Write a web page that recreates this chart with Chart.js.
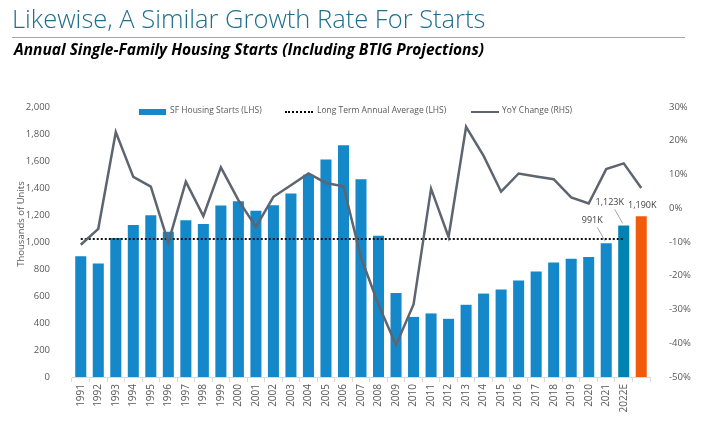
<!DOCTYPE html>
<html>
<head>
<meta charset="utf-8">
<script src="https://cdn.jsdelivr.net/npm/chart.js@4"></script>
<style>
  html, body { margin: 0; padding: 0; background: #fff; }
  #wrap { position: relative; width: 704px; height: 436px; overflow: hidden; }
  #title { position: absolute; left: 12px; top: 1px; font-family: "Open Sans", sans-serif; font-weight: 300; font-size: 25.5px; color: #1f6e8c; white-space: nowrap; }
  #rule { position: absolute; left: 12px; top: 37px; width: 673px; height: 1px; background: #a6a6a6; }
  #subtitle { position: absolute; left: 14px; top: 38px; font-family: "Open Sans", sans-serif; font-weight: 700; font-style: italic; font-size: 15.5px; color: #000; white-space: nowrap; }
  #legend { position: absolute; top: 104px; left: 0; font-family: "Open Sans", sans-serif; font-size: 8.5px; color: #595959; }
  #legend span { position: absolute; white-space: nowrap; top: 0; }
  .sw { position: absolute; }
  canvas { position: absolute; left: 0; top: 0; }
</style>
</head>
<body>
<div id="wrap">
  <canvas id="chart" width="704" height="436"></canvas>
  <div id="title">Likewise, A Similar Growth Rate For Starts</div>
  <div id="rule"></div>
  <div id="subtitle">Annual Single-Family Housing Starts (Including BTIG Projections)</div>
  <div id="legend">
    <div class="sw" style="left:139px;top:5px;width:27px;height:6px;background:#1488c8"></div>
    <span style="left:170px">SF Housing Starts (LHS)</span>
    <div class="sw" style="left:285px;top:7px;width:28px;height:0;border-top:2px dotted #000"></div>
    <span style="left:317px">Long Term Annual Average (LHS)</span>
    <div class="sw" style="left:471px;top:7px;width:28px;height:2px;background:#5d6570"></div>
    <span style="left:502px">YoY Change (RHS)</span>
  </div>
</div>
<script>
const years = ['1991','1992','1993','1994','1995','1996','1997','1998','1999','2000',
  '2001','2002','2003','2004','2005','2006','2007','2008','2009','2010',
  '2011','2012','2013','2014','2015','2016','2017','2018','2019','2020',
  '2021','2022E',''];

// thousands of units
const starts = [895, 840, 1030, 1126, 1198, 1076, 1161, 1134, 1271, 1302,
  1231, 1273, 1359, 1499, 1611, 1716, 1465, 1046, 622, 445,
  471, 431, 535, 618, 648, 715, 782, 849, 876, 888,
  991, 1123, 1190];

// year over year change, %
const yoyChange = [-10.8, -6.1, 22.6, 9.3, 6.4, -10.2, 7.9, -2.3, 12.1, 2.4,
  -5.5, 3.4, 6.8, 10.3, 7.5, 6.5, -14.6, -28.6, -40.5, -28.5,
  5.8, -8.5, 24.1, 15.5, 4.9, 10.3, 9.4, 8.6, 3.2, 1.4,
  11.6, 13.3, 6.0];

const longTermAvg = 1022;
const avgLastIndex = 31;

const barLabels = [
  { index: 30, text: '991K' },
  { index: 31, text: '1,123K' },
  { index: 32, text: '1,190K' }
];

const blue = '#1488c8';
const teal = '#0083b3';
const orange = '#f35b0c';
const lineGray = '#5d6570';
const tickFont = { family: 'Open Sans', size: 9.5 };

const barColors = starts.map((v, i) => i === 32 ? orange : (i === 31 ? teal : blue));
const avgData = years.map((y, i) => i <= avgLastIndex ? longTermAvg : null);

// y-axis title + value callouts
const extras = {
  id: 'extras',
  afterDatasetsDraw(chart) {
    const ctx = chart.ctx;
    const x = chart.scales.x, y = chart.scales.y;
    ctx.save();
    ctx.font = '9px "Open Sans"';
    ctx.fillStyle = '#404040';
    ctx.textAlign = 'center';
    ctx.textBaseline = 'middle';
    barLabels.forEach(l => {
      const bx = x.getPixelForValue(l.index);
      const by = y.getPixelForValue(starts[l.index]);
      if (l.index === 32) {
        ctx.fillText(l.text, bx + 1, by - 11);
        return;
      }
      const tx = bx - 17, ty = by - 23;
      ctx.fillText(l.text, tx + 3, ty);
      ctx.strokeStyle = '#a6a6a6';
      ctx.lineWidth = 1;
      ctx.beginPath();
      ctx.moveTo(tx + 8, ty + 7);
      ctx.lineTo(bx - 1, by - 2);
      ctx.stroke();
    });
    // axis title
    ctx.translate(21, 224);
    ctx.rotate(-Math.PI / 2);
    ctx.font = '9.5px "Open Sans"';
    ctx.fillStyle = '#595959';
    ctx.fillText('Thousands of Units', 0, 0);
    ctx.restore();
  }
};

new Chart(document.getElementById('chart'), {
  type: 'bar',
  data: {
    labels: years,
    datasets: [
      {
        type: 'line',
        label: 'YoY Change (RHS)',
        data: yoyChange,
        yAxisID: 'y2',
        borderColor: lineGray,
        borderWidth: 2.5,
        pointRadius: 0,
        tension: 0,
        order: 1
      },
      {
        type: 'line',
        label: 'Long Term Annual Average (LHS)',
        data: avgData,
        yAxisID: 'y',
        borderColor: '#111',
        borderWidth: 2,
        borderDash: [2, 2],
        pointRadius: 0,
        order: 2
      },
      {
        label: 'SF Housing Starts (LHS)',
        data: starts,
        yAxisID: 'y',
        backgroundColor: barColors,
        categoryPercentage: 1,
        barPercentage: 0.63,
        order: 3
      }
    ]
  },
  options: {
    responsive: false,
    animation: false,
    layout: { padding: { top: 107, left: 0, right: 0, bottom: 0 } },
    plugins: {
      legend: { display: false },
      tooltip: { enabled: false }
    },
    scales: {
      x: {
        offset: true,
        grid: { display: true, drawOnChartArea: false, tickLength: 5, color: '#d9d9d9', offset: true },
        border: { color: '#d9d9d9' },
        ticks: { font: { family: 'Open Sans', size: 10 }, color: '#595959', maxRotation: 90, minRotation: 90, autoSkip: false, padding: 2 },
        afterFit: s => { s.height = 59; }
      },
      y: {
        position: 'left',
        min: 0, max: 2000,
        grid: { display: false },
        border: { display: false },
        ticks: { stepSize: 200, font: tickFont, color: '#595959', padding: 14,
          callback: v => v.toLocaleString('en-US') },
        afterFit: s => { s.width = 72; }
      },
      y2: {
        position: 'right',
        min: -50, max: 30,
        grid: { display: false },
        border: { display: false },
        ticks: { stepSize: 10, font: tickFont, color: '#595959', padding: 11,
          callback: v => v + '%' },
        afterFit: s => { s.width = 54; }
      }
    }
  },
  plugins: [extras]
});
</script>
</body>
</html>
